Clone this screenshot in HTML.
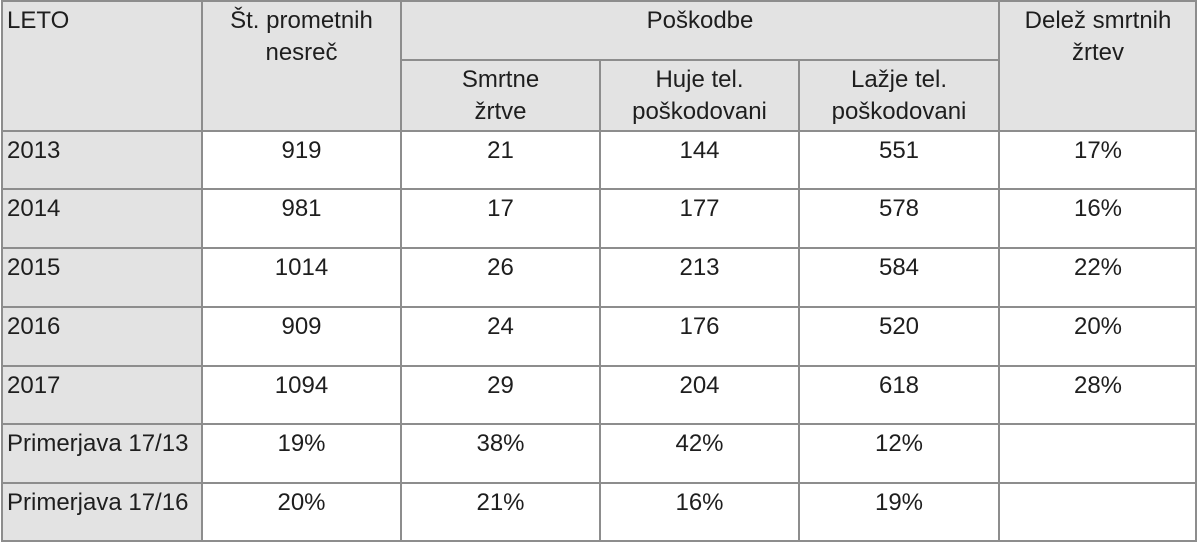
<!DOCTYPE html>
<html>
<head>
<meta charset="utf-8">
<style>
html,body{margin:0;padding:0;}
body{width:1200px;height:545px;position:relative;background:#fff;overflow:hidden;
font-family:"Liberation Sans",Arial,sans-serif;font-size:24px;color:#1e1e1e;}
.g{position:absolute;background:#e3e3e3;}
.h{position:absolute;height:2px;background:#8d8d8d;}
.v{position:absolute;width:2px;background:#8d8d8d;}
.t{position:absolute;line-height:32px;white-space:nowrap;}
.c{text-align:center;}
</style>
</head>
<body>
<!-- gray backgrounds -->
<div class="g" style="left:1px;top:1px;width:1196px;height:130px;"></div>
<div class="g" style="left:1px;top:131px;width:201px;height:410px;"></div>

<!-- horizontal lines -->
<div class="h" style="left:1px;top:0px;width:1196px;"></div>
<div class="h" style="left:400px;top:59px;width:600px;"></div>
<div class="h" style="left:1px;top:130px;width:1196px;"></div>
<div class="h" style="left:1px;top:188px;width:1196px;"></div>
<div class="h" style="left:1px;top:247px;width:1196px;"></div>
<div class="h" style="left:1px;top:306px;width:1196px;"></div>
<div class="h" style="left:1px;top:365px;width:1196px;"></div>
<div class="h" style="left:1px;top:423px;width:1196px;"></div>
<div class="h" style="left:1px;top:482px;width:1196px;"></div>
<div class="h" style="left:1px;top:540px;width:1196px;"></div>

<!-- vertical lines -->
<div class="v" style="left:1px;top:0px;height:542px;"></div>
<div class="v" style="left:201px;top:0px;height:542px;"></div>
<div class="v" style="left:400px;top:0px;height:542px;"></div>
<div class="v" style="left:599px;top:59px;height:483px;"></div>
<div class="v" style="left:798px;top:59px;height:483px;"></div>
<div class="v" style="left:998px;top:0px;height:542px;"></div>
<div class="v" style="left:1195px;top:0px;height:542px;"></div>

<!-- header text -->
<div class="t" style="left:7px;top:5px;">LETO</div>
<div class="t c" style="left:202px;width:199px;top:5px;">Št. prometnih<br>nesreč</div>
<div class="t c" style="left:401px;width:598px;top:5px;">Poškodbe</div>
<div class="t c" style="left:999px;width:198px;top:5px;">Delež smrtnih<br>žrtev</div>
<div class="t c" style="left:401px;width:199px;top:64px;">Smrtne<br>žrtve</div>
<div class="t c" style="left:600px;width:199px;top:64px;">Huje tel.<br>poškodovani</div>
<div class="t c" style="left:799px;width:200px;top:64px;">Lažje tel.<br>poškodovani</div>

<!-- row 2013 -->
<div class="t" style="left:7px;top:135px;">2013</div>
<div class="t c" style="left:202px;width:199px;top:135px;">919</div>
<div class="t c" style="left:401px;width:199px;top:135px;">21</div>
<div class="t c" style="left:600px;width:199px;top:135px;">144</div>
<div class="t c" style="left:799px;width:200px;top:135px;">551</div>
<div class="t c" style="left:999px;width:198px;top:135px;">17%</div>

<!-- row 2014 -->
<div class="t" style="left:7px;top:193px;">2014</div>
<div class="t c" style="left:202px;width:199px;top:193px;">981</div>
<div class="t c" style="left:401px;width:199px;top:193px;">17</div>
<div class="t c" style="left:600px;width:199px;top:193px;">177</div>
<div class="t c" style="left:799px;width:200px;top:193px;">578</div>
<div class="t c" style="left:999px;width:198px;top:193px;">16%</div>

<!-- row 2015 -->
<div class="t" style="left:7px;top:252px;">2015</div>
<div class="t c" style="left:202px;width:199px;top:252px;">1014</div>
<div class="t c" style="left:401px;width:199px;top:252px;">26</div>
<div class="t c" style="left:600px;width:199px;top:252px;">213</div>
<div class="t c" style="left:799px;width:200px;top:252px;">584</div>
<div class="t c" style="left:999px;width:198px;top:252px;">22%</div>

<!-- row 2016 -->
<div class="t" style="left:7px;top:311px;">2016</div>
<div class="t c" style="left:202px;width:199px;top:311px;">909</div>
<div class="t c" style="left:401px;width:199px;top:311px;">24</div>
<div class="t c" style="left:600px;width:199px;top:311px;">176</div>
<div class="t c" style="left:799px;width:200px;top:311px;">520</div>
<div class="t c" style="left:999px;width:198px;top:311px;">20%</div>

<!-- row 2017 -->
<div class="t" style="left:7px;top:370px;">2017</div>
<div class="t c" style="left:202px;width:199px;top:370px;">1094</div>
<div class="t c" style="left:401px;width:199px;top:370px;">29</div>
<div class="t c" style="left:600px;width:199px;top:370px;">204</div>
<div class="t c" style="left:799px;width:200px;top:370px;">618</div>
<div class="t c" style="left:999px;width:198px;top:370px;">28%</div>

<!-- Primerjava 17/13 -->
<div class="t" style="left:7px;top:428px;">Primerjava 17/13</div>
<div class="t c" style="left:202px;width:199px;top:428px;">19%</div>
<div class="t c" style="left:401px;width:199px;top:428px;">38%</div>
<div class="t c" style="left:600px;width:199px;top:428px;">42%</div>
<div class="t c" style="left:799px;width:200px;top:428px;">12%</div>

<!-- Primerjava 17/16 -->
<div class="t" style="left:7px;top:487px;">Primerjava 17/16</div>
<div class="t c" style="left:202px;width:199px;top:487px;">20%</div>
<div class="t c" style="left:401px;width:199px;top:487px;">21%</div>
<div class="t c" style="left:600px;width:199px;top:487px;">16%</div>
<div class="t c" style="left:799px;width:200px;top:487px;">19%</div>
</body>
</html>
